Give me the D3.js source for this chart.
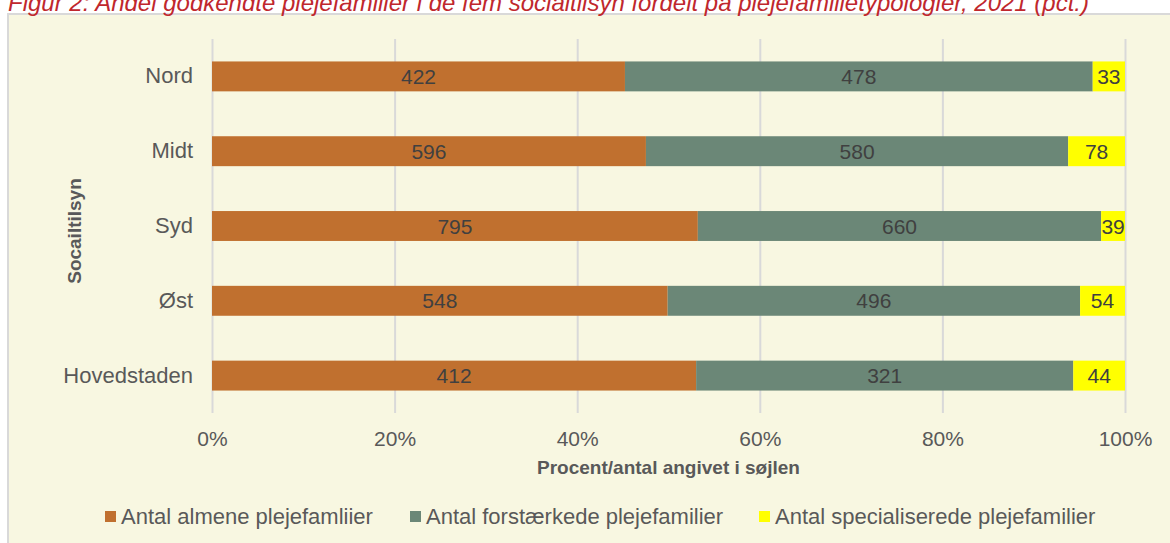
<!DOCTYPE html>
<html>
<head>
<meta charset="utf-8">
<script src="https://cdn.jsdelivr.net/npm/d3@7"></script>
<style>
  body { margin: 0; background: #fff; }
  svg { display: block; font-family: "Liberation Sans", Arial, sans-serif; }
  .axis text { fill: #595959; font-size: 21px; }
  .y-axis text { font-size: 22px; }
  .grid line { stroke: #d9d9d9; stroke-width: 2; }
</style>
</head>
<body>
<div id="chart"></div>
<script>
// Chart values
const regions = ["Nord", "Midt", "Syd", "Øst", "Hovedstaden"];
const seriesNames = [
  "Antal almene plejefamliier",
  "Antal forstærkede plejefamilier",
  "Antal specialiserede plejefamilier"
];
const almene = [422, 596, 795, 548, 412];
const forstaerkede = [478, 580, 660, 496, 321];
const specialiserede = [33, 78, 39, 54, 44];
const xTicks = [0, 0.2, 0.4, 0.6, 0.8, 1];
const colors = ["#c0702f", "#6b8777", "#ffff00"];

class StackedBar {
  constructor(_config) {
    this.config = {
      parentElement: _config.parentElement,
      containerWidth: _config.containerWidth || 1170,
      containerHeight: _config.containerHeight || 543,
      margin: { top: 39, right: 45, bottom: 130, left: 212 }
    };
    this.initVis();
  }

  initVis() {
    const vis = this;
    const cfg = vis.config;
    vis.width = cfg.containerWidth - cfg.margin.left - cfg.margin.right;
    vis.height = cfg.containerHeight - cfg.margin.top - cfg.margin.bottom;

    vis.root = d3.select(cfg.parentElement).append("svg")
      .attr("width", cfg.containerWidth)
      .attr("height", cfg.containerHeight);

    // pale chart panel with its grey frame (runs off the right and bottom edge)
    vis.root.append("rect")
      .attr("x", 8).attr("y", 14)
      .attr("width", 1200).attr("height", 560)
      .attr("fill", "#f8f7e1")
      .attr("stroke", "#d9d9d9")
      .attr("stroke-width", 2);

    // figure caption, cut off at the top as in the source
    vis.root.append("text")
      .attr("x", 8).attr("y", 11)
      .attr("fill", "#c0272d")
      .attr("font-size", 24)
      .attr("font-style", "italic")
      .text("Figur 2: Andel godkendte plejefamilier i de fem socialtilsyn fordelt på plejefamilietypologier, 2021 (pct.)");

    vis.svg = vis.root.append("g")
      .attr("transform", `translate(${cfg.margin.left}, ${cfg.margin.top})`);

    vis.xScale = d3.scaleLinear().domain([0, 1]).range([0, vis.width]);
    vis.yScale = d3.scaleBand().domain(regions).range([0, vis.height])
      .paddingInner(0.6).paddingOuter(0.3);

    vis.xAxis = d3.axisBottom(vis.xScale)
      .tickValues(xTicks)
      .tickFormat(d3.format(".0%"))
      .tickSize(-vis.height)
      .tickPadding(18);
    vis.yAxis = d3.axisLeft(vis.yScale).tickSize(0).tickPadding(19);

    vis.xAxisGroup = vis.svg.append("g")
      .attr("class", "axis grid")
      .attr("transform", `translate(0, ${vis.height})`);
    vis.yAxisGroup = vis.svg.append("g").attr("class", "axis y-axis");
    vis.barGroup = vis.svg.append("g");
  }

  setData(rows) {
    const vis = this;
    // normalise every row to shares so the bars fill 0–100%
    vis.stack = d3.stack().keys([0, 1, 2])
      .value((d, k) => d.values[k] / d3.sum(d.values))(rows);
    vis.rows = rows;
    vis.renderVis();
  }

  renderVis() {
    const vis = this;

    vis.xAxisGroup.call(vis.xAxis);
    vis.xAxisGroup.select(".domain").remove();
    vis.yAxisGroup.call(vis.yAxis);
    vis.yAxisGroup.select(".domain").remove();

    const layers = vis.barGroup.selectAll(".layer")
      .data(vis.stack)
      .join("g")
      .attr("class", "layer")
      .attr("fill", (d, i) => colors[i]);

    layers.selectAll("rect")
      .data(d => d)
      .join("rect")
      .attr("x", d => vis.xScale(d[0]))
      .attr("y", d => vis.yScale(d.data.region))
      .attr("width", d => vis.xScale(d[1]) - vis.xScale(d[0]))
      .attr("height", vis.yScale.bandwidth());

    // counts written in the middle of each segment
    layers.selectAll("text")
      .data((d, i) => d.map(s => ({ s, v: s.data.values[i] })))
      .join("text")
      .attr("x", d => (vis.xScale(d.s[0]) + vis.xScale(d.s[1])) / 2)
      .attr("y", d => vis.yScale(d.s.data.region) + vis.yScale.bandwidth() / 2)
      .attr("dy", "0.36em")
      .attr("text-anchor", "middle")
      .attr("font-size", 21)
      .attr("fill", "#404040")
      .text(d => d.v);

    // axis titles
    vis.svg.append("text")
      .attr("x", vis.width / 2)
      .attr("y", vis.height + 61)
      .attr("text-anchor", "middle")
      .attr("font-size", 19)
      .attr("font-weight", "bold")
      .attr("fill", "#595959")
      .text("Procent/antal angivet i søjlen");

    vis.svg.append("text")
      .attr("transform", `translate(${74 - vis.config.margin.left + 7}, ${231 - vis.config.margin.top}) rotate(-90)`)
      .attr("text-anchor", "middle")
      .attr("font-size", 19)
      .attr("font-weight", "bold")
      .attr("fill", "#595959")
      .text("Socailtilsyn");

    // legend row
    const legendX = [105, 410, 759];
    const legend = vis.root.append("g").selectAll("g")
      .data(seriesNames)
      .join("g")
      .attr("transform", (d, i) => `translate(${legendX[i]}, 511)`);
    legend.append("rect")
      .attr("width", 11).attr("height", 11)
      .attr("fill", (d, i) => colors[i]);
    legend.append("text")
      .attr("x", 16).attr("y", 5.5)
      .attr("dy", "0.36em")
      .attr("font-size", 22)
      .attr("fill", "#595959")
      .text(d => d);
  }
}

const rows = regions.map((r, i) => ({
  region: r,
  values: [almene[i], forstaerkede[i], specialiserede[i]]
}));

const chart = new StackedBar({ parentElement: "#chart", containerWidth: 1170, containerHeight: 543 });
chart.setData(rows);
</script>
</body>
</html>
